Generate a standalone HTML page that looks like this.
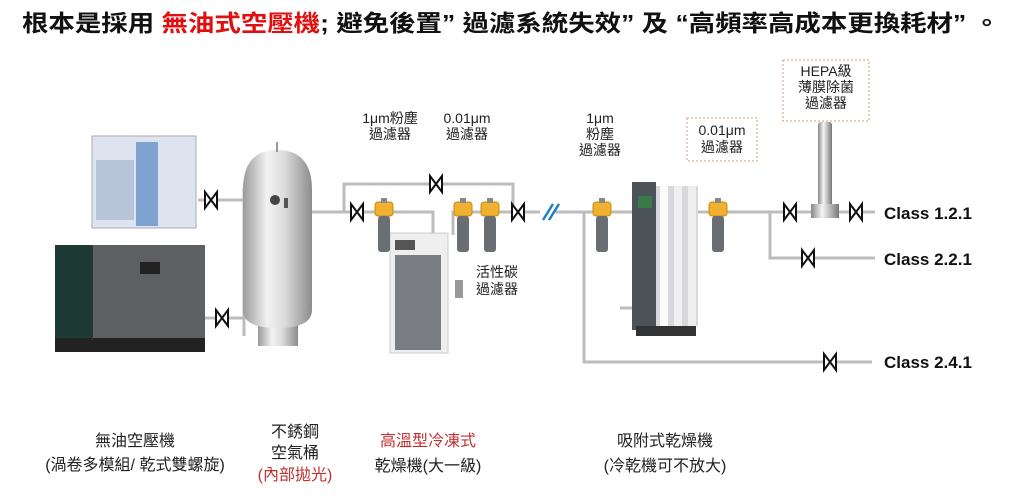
<!DOCTYPE html>
<html><head><meta charset="utf-8"><style>
html,body{margin:0;padding:0;background:#fff;}
svg{display:block;font-family:"Liberation Sans","Noto Sans CJK TC",sans-serif;}
</style></head><body>
<svg width="1024" height="496" viewBox="0 0 1024 496" xmlns="http://www.w3.org/2000/svg">
<defs>
<linearGradient id="tank" x1="0" x2="1"><stop offset="0" stop-color="#9a9a9a"/><stop offset=".35" stop-color="#f2f2f2"/><stop offset=".6" stop-color="#dcdcdc"/><stop offset="1" stop-color="#8c8c8c"/></linearGradient>
<linearGradient id="steel" x1="0" x2="1"><stop offset="0" stop-color="#888"/><stop offset=".4" stop-color="#f5f5f5"/><stop offset="1" stop-color="#777"/></linearGradient>
<g id="v"><path d="M-6,-8 L6,8 L6,-8 L-6,8 Z" fill="#fff" stroke="#111" stroke-width="2"/></g>
<g id="f"><rect x="-9" y="-10" width="18" height="14" rx="3" fill="#f0b030" stroke="#c98a10"/><rect x="-3" y="-14" width="6" height="5" fill="#888"/><rect x="-6" y="4" width="12" height="36" rx="3" fill="#6a6e72"/></g>
</defs>
<text x="22" y="31" font-size="23" font-weight="bold" textLength="978" lengthAdjust="spacingAndGlyphs" fill="#111">根本是採用 <tspan fill="#e01010">無油式空壓機</tspan>; 避免後置” 過濾系統失效” 及 “高頻率高成本更換耗材” 。</text>
<g stroke="#bdbdbd" stroke-width="3" fill="none">
<path d="M198,200 H244 M205,318 H244 M244,188 V336 M244,293 H262"/>
<path d="M312,212 H433 V235 M344,212 V184 H513 V212 M453,235 V212 H540"/>
<path d="M555,212 H632 M584,212 V362 H872 M620,308 H632"/>
<path d="M697,212 H875 M770,212 V258 H875"/>
</g>
<path d="M543,220 L553,204 M549,220 L559,204" stroke="#1f7fc0" stroke-width="2.5"/>
<rect x="92" y="136" width="104" height="92" fill="#dde4f0" stroke="#aab"/>
<rect x="136" y="142" width="22" height="84" fill="#7fa2d0"/>
<rect x="96" y="160" width="38" height="60" fill="#b8c4d8"/>
<rect x="55" y="245" width="150" height="105" fill="#5e6064"/>
<rect x="55" y="245" width="36" height="105" fill="#1e3a34"/>
<rect x="55" y="338" width="150" height="14" fill="#222"/>
<rect x="140" y="262" width="20" height="12" fill="#222"/>
<rect x="91" y="245" width="2" height="95" fill="#333"/>
<rect x="258" y="310" width="40" height="36" fill="url(#tank)"/>
<path d="M243,190 Q243,150 277,150 Q312,150 312,190 V310 Q312,328 277,328 Q243,328 243,310 Z" fill="url(#tank)"/>
<line x1="277" y1="142" x2="277" y2="152" stroke="#999" stroke-width="2"/>
<circle cx="275" cy="200" r="5" fill="#444"/><rect x="284" y="198" width="4" height="10" fill="#555"/>
<rect x="390" y="233" width="58" height="120" fill="#eeeeee" stroke="#ccc"/>
<rect x="395" y="255" width="46" height="95" fill="#7a7d82"/>
<rect x="395" y="240" width="20" height="10" fill="#555"/>
<rect x="455" y="280" width="8" height="18" fill="#999"/>
<rect x="632" y="182" width="24" height="148" fill="#4b5258"/>
<rect x="656" y="186" width="42" height="140" fill="#d8d8dc"/>
<rect x="660" y="186" width="8" height="140" fill="#fafafa"/><rect x="674" y="186" width="8" height="140" fill="#f0f0f0"/><rect x="688" y="186" width="8" height="140" fill="#eee"/>
<rect x="638" y="196" width="14" height="12" fill="#3a7a4a"/>
<rect x="636" y="326" width="60" height="10" fill="#333"/>
<use href="#f" x="384" y="212"/><use href="#f" x="463" y="212"/><use href="#f" x="490" y="212"/>
<use href="#f" x="602" y="212"/><use href="#f" x="718" y="212"/>
<rect x="818" y="122" width="14" height="92" rx="3" fill="url(#steel)"/>
<rect x="811" y="204" width="28" height="14" fill="url(#steel)"/>
<use href="#v" x="211" y="200"/><use href="#v" x="222" y="318"/><use href="#v" x="357" y="212"/>
<use href="#v" x="436" y="184"/><use href="#v" x="518" y="212"/><use href="#v" x="790" y="212"/>
<use href="#v" x="856" y="212"/><use href="#v" x="808" y="258"/><use href="#v" x="830" y="362"/>
<rect x="687" y="118" width="70" height="43" fill="none" stroke="#d0a070" stroke-dasharray="2,2"/>
<rect x="783" y="60" width="86" height="61" fill="none" stroke="#d0a070" stroke-dasharray="2,2"/>
<g font-size="14" fill="#222" text-anchor="middle">
<text x="390" y="123">1μm粉塵</text><text x="390" y="139">過濾器</text>
<text x="467" y="123">0.01μm</text><text x="467" y="139">過濾器</text>
<text x="497" y="277">活性碳</text><text x="497" y="294">過濾器</text>
<text x="600" y="123">1μm</text><text x="600" y="139">粉塵</text><text x="600" y="155">過濾器</text>
<text x="722" y="135">0.01μm</text><text x="722" y="152">過濾器</text>
<text x="826" y="76">HEPA級</text><text x="826" y="92">薄膜除菌</text><text x="826" y="108">過濾器</text>
</g>
<g font-size="17" font-weight="bold" fill="#111">
<text x="884" y="219">Class 1.2.1</text><text x="884" y="265">Class 2.2.1</text><text x="884" y="368">Class 2.4.1</text>
</g>
<g font-size="16" fill="#222" text-anchor="middle">
<text x="135" y="446">無油空壓機</text><text x="135" y="470">(渦卷多模組/ 乾式雙螺旋)</text>
<text x="295" y="437">不銹鋼</text><text x="295" y="458">空氣桶</text><text x="295" y="480" fill="#c03030">(內部拋光)</text>
<text x="428" y="446" fill="#c03030">高溫型冷凍式</text><text x="428" y="471">乾燥機(大一級)</text>
<text x="665" y="446">吸附式乾燥機</text><text x="665" y="471">(冷乾機可不放大)</text>
</g>
</svg>
</body></html>
